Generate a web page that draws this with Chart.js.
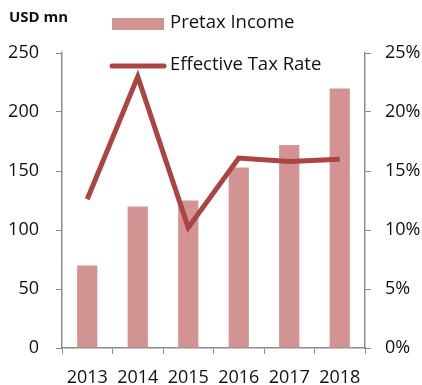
<!DOCTYPE html>
<html>
<head>
<meta charset="utf-8">
<script src="https://cdn.jsdelivr.net/npm/chart.js@4"></script>
<style>
  html, body { margin: 0; padding: 0; background: #fff; }
  #wrap { position: relative; width: 422px; height: 385px; }
</style>
</head>
<body>
<div id="wrap"><canvas id="myChart" width="422" height="385"></canvas></div>
<script>
// Yearly figures
const years = ['2013', '2014', '2015', '2016', '2017', '2018'];
const pretaxIncome = [70, 120, 125, 153, 172, 220];      // USD mn
const effectiveTaxRate = [12.6, 23.0, 10.2, 16.1, 15.8, 16.0]; // %

const barColor = '#D39393';
const lineColor = '#AA4541';
const axisColor = '#8C8C8C';
const fontFamily = '"Open Sans", sans-serif';

// Draws the unit label and the two-row legend in the top area
const legendPlugin = {
    id: 'topLegend',
    afterDraw(chart) {
        const ctx = chart.ctx;
        ctx.save();
        ctx.fillStyle = '#111';
        ctx.font = 'bold 15px ' + fontFamily;
        ctx.textBaseline = 'middle';
        ctx.fillText('USD mn', 9, 18);

        ctx.fillStyle = barColor;
        ctx.fillRect(112, 18, 52, 12);
        ctx.strokeStyle = lineColor;
        ctx.lineWidth = 5;
        ctx.lineCap = 'round';
        ctx.beginPath();
        ctx.moveTo(112, 66);
        ctx.lineTo(164, 66);
        ctx.stroke();

        ctx.fillStyle = '#111';
        ctx.font = '18.5px ' + fontFamily;
        ctx.fillText('Pretax Income', 170, 23);
        ctx.fillText('Effective Tax Rate', 170, 65);
        ctx.restore();
    }
};

const ctx = document.getElementById('myChart').getContext('2d');

new Chart(ctx, {
    data: {
        labels: years,
        datasets: [
            {
                type: 'line',
                label: 'Effective Tax Rate',
                data: effectiveTaxRate,
                yAxisID: 'yRate',
                borderColor: lineColor,
                borderWidth: 5,
                pointRadius: 0,
                tension: 0,
                fill: false,
                order: 0
            },
            {
                type: 'bar',
                label: 'Pretax Income',
                data: pretaxIncome,
                yAxisID: 'yIncome',
                backgroundColor: barColor,
                categoryPercentage: 1,
                barPercentage: 0.4,
                order: 1
            }
        ]
    },
    options: {
        responsive: false,
        animation: false,
        layout: { padding: { top: 53, left: 0, right: 0, bottom: 0 } },
        plugins: {
            legend: { display: false },
            tooltip: { enabled: false }
        },
        scales: {
            x: {
                offset: true,
                grid: {
                    offset: true,
                    drawOnChartArea: false,
                    drawTicks: true,
                    tickLength: 6,
                    color: axisColor
                },
                border: { color: axisColor, width: 1.5 },
                ticks: {
                    color: '#111',
                    font: { family: fontFamily, size: 18 },
                    padding: 13,
                    maxRotation: 0
                },
                afterFit(scale) { scale.height = 37; }
            },
            yIncome: {
                position: 'left',
                min: 0,
                max: 250,
                ticks: {
                    stepSize: 50,
                    color: '#111',
                    font: { family: fontFamily, size: 18 },
                    padding: 17
                },
                grid: { drawOnChartArea: false, tickLength: 6, color: axisColor },
                border: { color: axisColor, width: 1.5 },
                afterFit(scale) { scale.width = 62; }
            },
            yRate: {
                position: 'right',
                min: 0,
                max: 25,
                ticks: {
                    stepSize: 5,
                    color: '#111',
                    font: { family: fontFamily, size: 18 },
                    padding: 14,
                    callback: v => v + '%'
                },
                grid: { drawOnChartArea: false, tickLength: 6, color: axisColor },
                border: { color: axisColor, width: 1.5 },
                afterFit(scale) { scale.width = 57; }
            }
        }
    },
    plugins: [legendPlugin]
});
</script>
</body>
</html>
